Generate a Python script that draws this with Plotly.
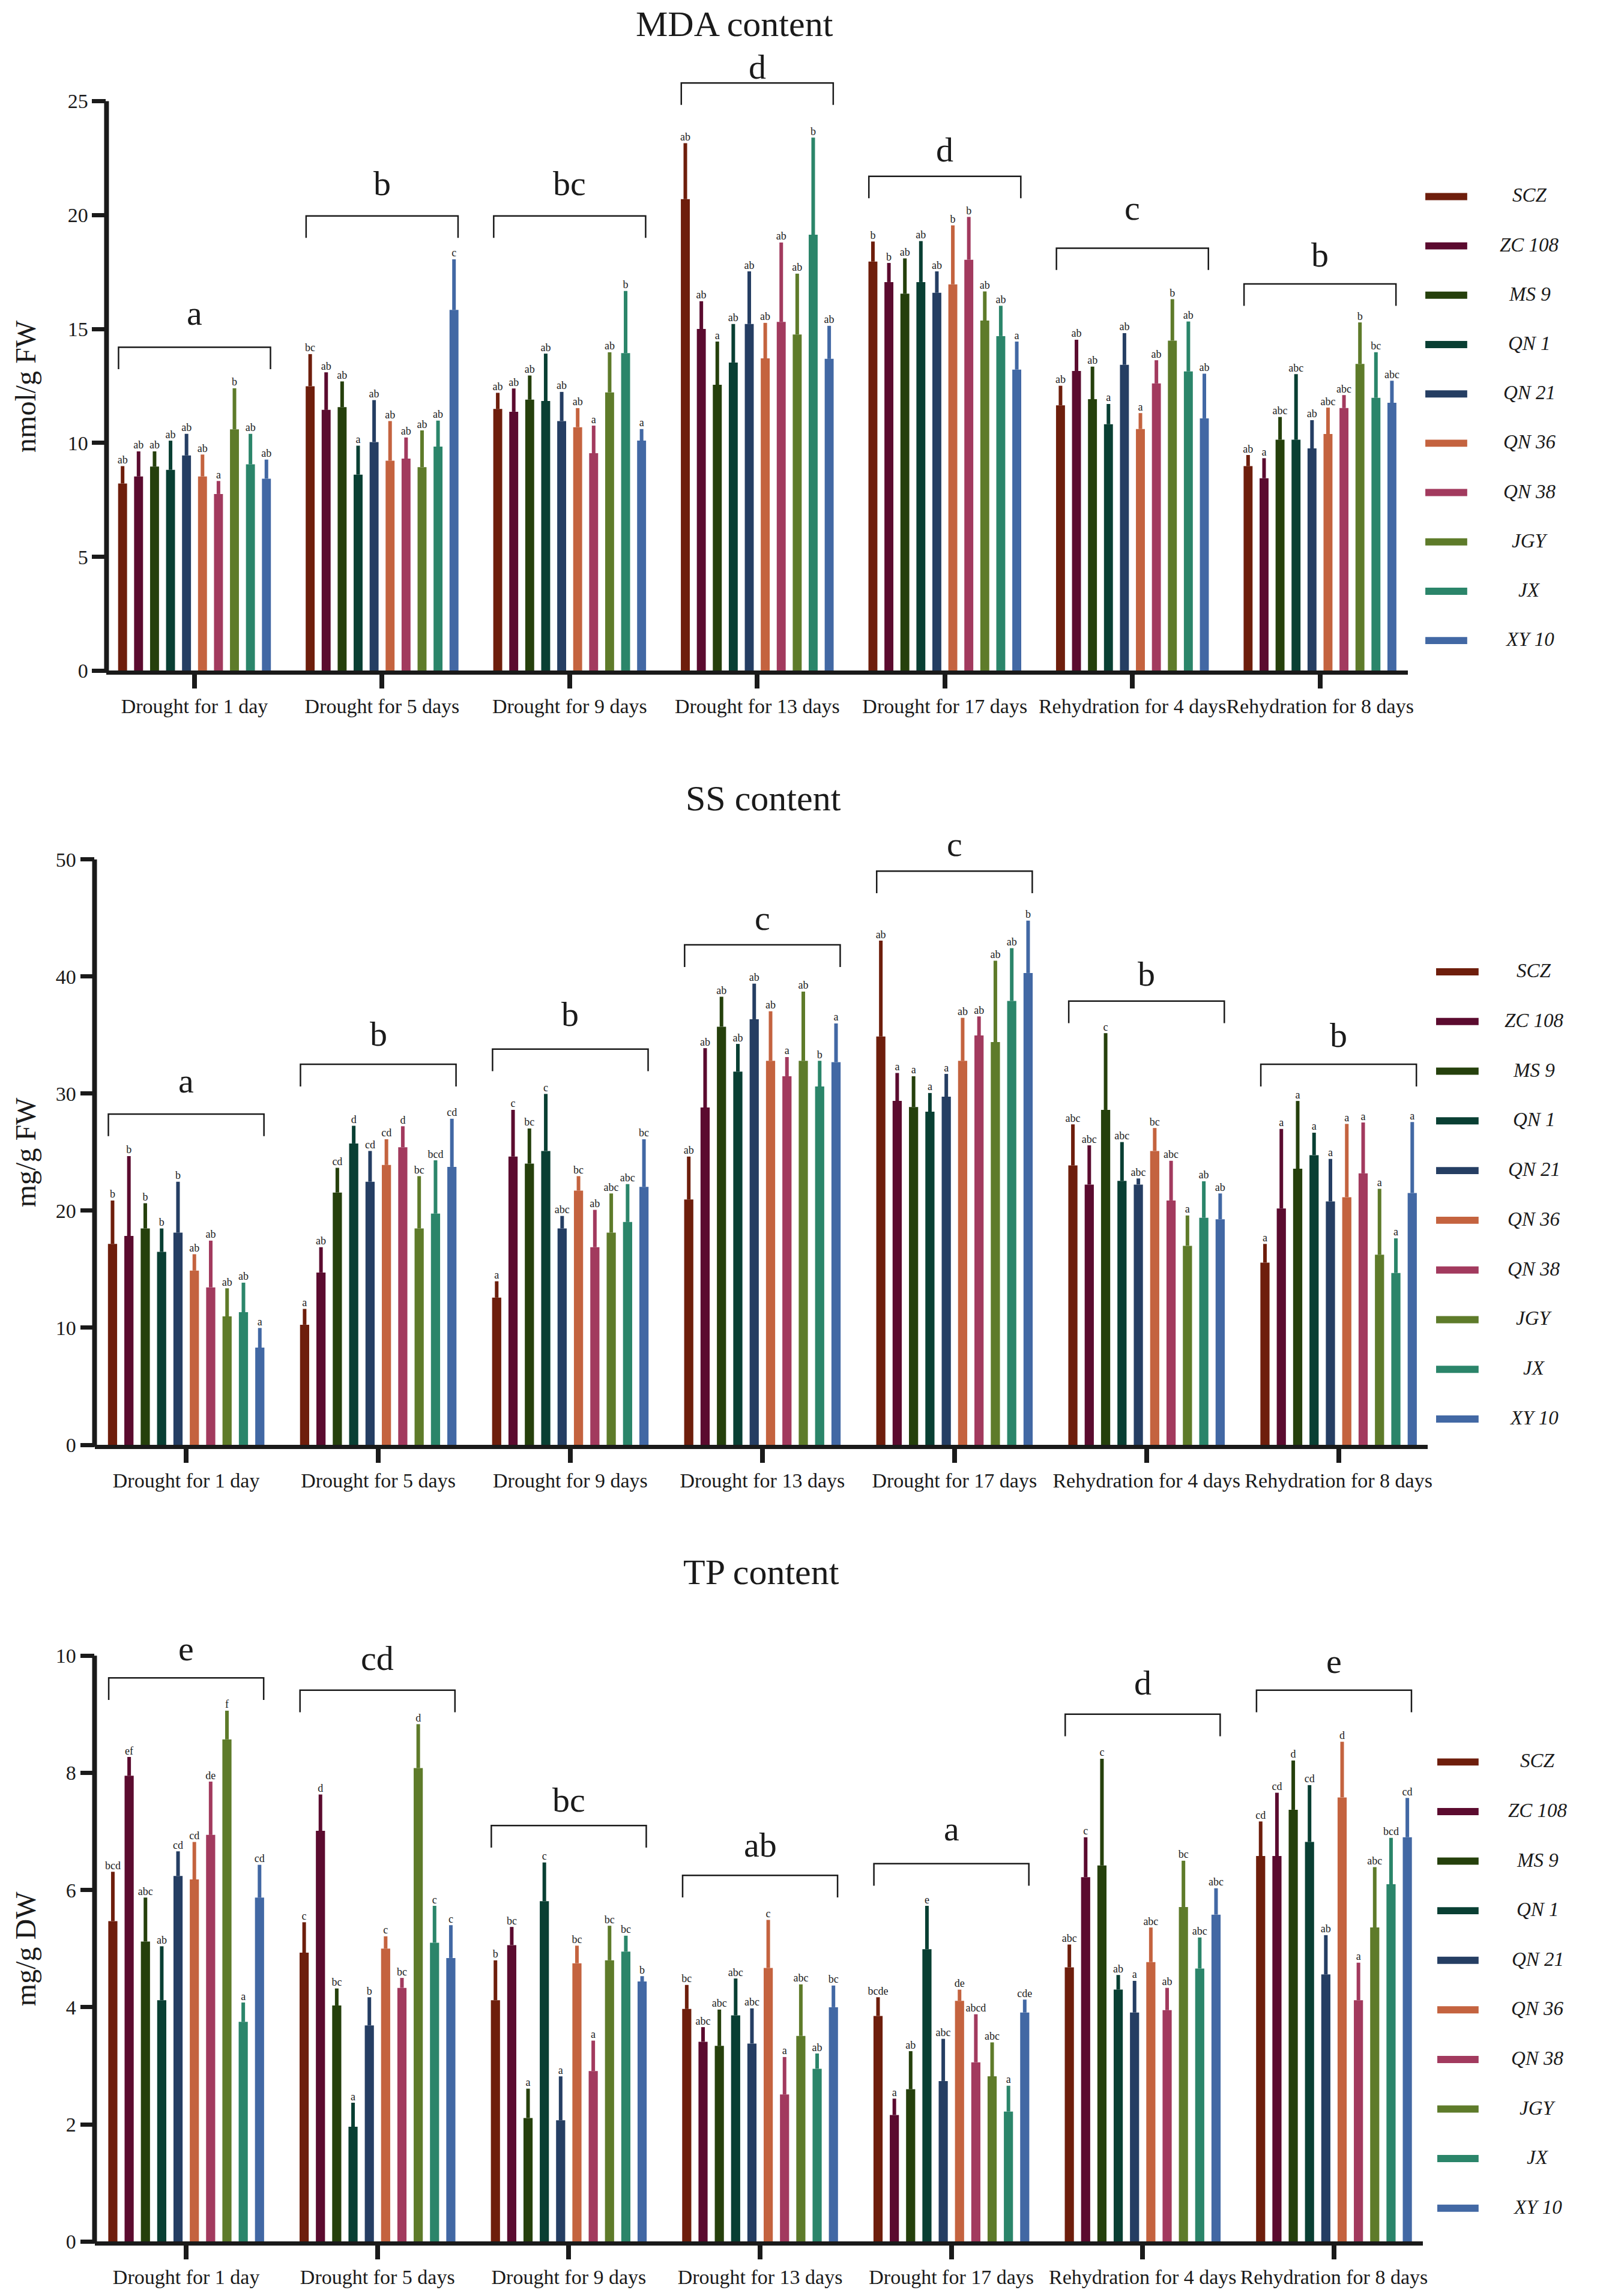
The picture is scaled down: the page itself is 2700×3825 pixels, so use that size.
import plotly.graph_objects as go

stages = ["Drought for 1 day", "Drought for 5 days", "Drought for 9 days",
          "Drought for 13 days", "Drought for 17 days",
          "Rehydration for 4 days", "Rehydration for 8 days"]
varieties = ["SCZ", "ZC 108", "MS 9", "QN 1", "QN 21", "QN 36", "QN 38", "JGY", "JX", "XY 10"]
colors = ["#6E1E0C", "#5B0B2F", "#25400C", "#093F33", "#253E63",
          "#C4633F", "#A23A5E", "#5E7B2A", "#2B856A", "#4268A4"]

# MDA content (rows = stages, columns = varieties)
mda_mean = [
    [8.22, 8.53, 8.96, 8.82, 9.45, 8.53, 7.76, 10.6, 9.06, 8.43],
    [12.49, 11.45, 11.57, 8.61, 10.04, 9.22, 9.31, 8.94, 9.84, 15.84],
    [11.49, 11.37, 11.9, 11.84, 10.96, 10.69, 9.55, 12.22, 13.94, 10.1],
    [20.7, 15.0, 12.55, 13.53, 15.22, 13.71, 15.31, 14.76, 19.14, 13.69],
    [17.96, 17.06, 16.55, 17.06, 16.59, 16.96, 18.04, 15.37, 14.69, 13.22],
    [11.65, 13.16, 11.92, 10.82, 13.43, 10.61, 12.61, 14.49, 13.14, 11.08],
    [8.98, 8.45, 10.14, 10.14, 9.76, 10.39, 11.53, 13.47, 11.98, 11.76],
]
mda_sd = [
    [0.76, 1.10, 0.67, 1.28, 0.95, 0.96, 0.57, 1.8, 1.34, 0.84],
    [1.41, 1.65, 1.13, 1.27, 1.84, 1.74, 0.93, 1.61, 1.14, 2.22],
    [0.71, 1.02, 1.06, 2.08, 1.28, 0.84, 1.21, 1.76, 2.73, 0.51],
    [2.46, 1.22, 1.9, 1.69, 2.31, 1.56, 3.49, 2.67, 4.26, 1.45],
    [0.88, 0.84, 1.55, 1.8, 0.94, 2.59, 1.88, 1.28, 1.33, 1.23],
    [0.86, 1.37, 1.43, 0.89, 1.39, 0.70, 1.02, 1.82, 2.19, 1.96],
    [0.49, 0.88, 1.0, 2.88, 1.24, 1.16, 0.57, 1.82, 2.0, 0.97],
]
mda_sig = [
    ["ab", "ab", "ab", "ab", "ab", "ab", "a", "b", "ab", "ab"],
    ["bc", "ab", "ab", "a", "ab", "ab", "ab", "ab", "ab", "c"],
    ["ab", "ab", "ab", "ab", "ab", "ab", "a", "ab", "b", "a"],
    ["ab", "ab", "a", "ab", "ab", "ab", "ab", "ab", "b", "ab"],
    ["b", "b", "ab", "ab", "ab", "b", "b", "ab", "ab", "a"],
    ["ab", "ab", "ab", "a", "ab", "a", "ab", "b", "ab", "ab"],
    ["ab", "a", "abc", "abc", "ab", "abc", "abc", "b", "bc", "abc"],
]
mda_group = ["a", "b", "bc", "d", "d", "c", "b"]
mda_bracket = [14.2, 19.96, 19.96, 25.8, 21.7, 18.55, 16.98]
mda_group_y = [15.7, 21.4, 21.4, 26.5, 22.86, 20.3, 18.27]

# SS content
ss_mean = [
    [17.16, 17.84, 18.48, 16.48, 18.12, 14.88, 13.45, 10.97, 11.33, 8.3],
    [10.26, 14.72, 21.55, 25.74, 22.47, 23.9, 25.42, 18.48, 19.75, 23.74],
    [12.57, 24.62, 24.02, 25.1, 18.48, 21.71, 16.88, 18.12, 19.03, 22.03],
    [20.95, 28.81, 35.71, 31.88, 36.35, 32.8, 31.48, 32.8, 30.6, 32.68],
    [34.88, 29.37, 28.85, 28.45, 29.73, 32.8, 34.96, 34.4, 37.91, 40.3],
    [23.86, 22.23, 28.61, 22.55, 22.23, 25.1, 20.87, 17.0, 19.39, 19.27],
    [15.56, 20.19, 23.58, 24.74, 20.79, 21.15, 23.18, 16.24, 14.68, 21.51],
]
ss_sd = [
    [3.71, 6.82, 2.15, 2.0, 4.35, 1.4, 3.99, 2.4, 2.52, 1.68],
    [1.35, 2.16, 2.11, 1.51, 2.63, 2.2, 1.79, 4.47, 4.55, 4.11],
    [1.4, 3.99, 3.0, 4.87, 1.07, 1.24, 3.19, 3.35, 3.24, 4.07],
    [3.67, 5.07, 2.56, 2.36, 3.04, 4.23, 1.64, 5.91, 2.2, 3.31],
    [8.18, 2.39, 2.63, 1.6, 1.95, 3.67, 1.63, 6.94, 4.51, 4.47],
    [3.51, 3.35, 6.55, 3.31, 0.52, 1.96, 3.39, 2.59, 3.12, 2.2],
    [1.6, 6.79, 5.79, 1.92, 3.63, 6.26, 4.35, 5.63, 2.96, 6.06],
]
ss_sig = [
    ["b", "b", "b", "b", "b", "ab", "ab", "ab", "ab", "a"],
    ["a", "ab", "cd", "d", "cd", "cd", "d", "bc", "bcd", "cd"],
    ["a", "c", "bc", "c", "abc", "bc", "ab", "abc", "abc", "bc"],
    ["ab", "ab", "ab", "ab", "ab", "ab", "a", "ab", "b", "a"],
    ["ab", "a", "a", "a", "a", "ab", "ab", "ab", "ab", "b"],
    ["abc", "abc", "c", "abc", "abc", "bc", "abc", "a", "ab", "ab"],
    ["a", "a", "a", "a", "a", "a", "a", "a", "a", "a"],
]
ss_group = ["a", "b", "b", "c", "c", "b", "b"]
ss_bracket = [28.25, 32.5, 33.8, 42.7, 49.0, 37.9, 32.5]
ss_group_y = [31.1, 35.1, 36.8, 45.0, 51.3, 40.2, 35.0]

# TP content
tp_mean = [
    [5.47, 7.95, 5.12, 4.12, 6.24, 6.18, 6.94, 8.57, 3.75, 5.87],
    [4.93, 7.01, 4.03, 1.96, 3.69, 5.0, 4.33, 8.08, 5.1, 4.84],
    [4.12, 5.06, 2.11, 5.81, 2.07, 4.75, 2.91, 4.8, 4.95, 4.44],
    [3.97, 3.41, 3.34, 3.86, 3.38, 4.67, 2.51, 3.51, 2.95, 4.0],
    [3.85, 2.16, 2.6, 4.99, 2.74, 4.11, 3.06, 2.82, 2.22, 3.91],
    [4.68, 6.22, 6.42, 4.3, 3.91, 4.77, 3.95, 5.71, 4.66, 5.58],
    [6.58, 6.58, 7.37, 6.82, 4.56, 7.58, 4.12, 5.36, 6.1, 6.9],
]
tp_sd = [
    [0.84, 0.32, 0.75, 0.92, 0.42, 0.64, 0.91, 0.49, 0.33, 0.56],
    [0.52, 0.62, 0.29, 0.41, 0.48, 0.21, 0.17, 0.75, 0.63, 0.56],
    [0.68, 0.31, 0.5, 0.66, 0.75, 0.3, 0.52, 0.59, 0.27, 0.09],
    [0.41, 0.25, 0.62, 0.63, 0.6, 0.82, 0.64, 0.88, 0.26, 0.37],
    [0.32, 0.28, 0.65, 0.74, 0.72, 0.19, 0.82, 0.58, 0.44, 0.22],
    [0.39, 0.68, 1.82, 0.25, 0.54, 0.59, 0.38, 0.79, 0.53, 0.45],
    [0.59, 1.08, 0.84, 0.97, 0.67, 0.95, 0.64, 1.03, 0.79, 0.67],
]
tp_sig = [
    ["bcd", "ef", "abc", "ab", "cd", "cd", "de", "f", "a", "cd"],
    ["c", "d", "bc", "a", "b", "c", "bc", "d", "c", "c"],
    ["b", "bc", "a", "c", "a", "bc", "a", "bc", "bc", "b"],
    ["bc", "abc", "abc", "abc", "abc", "c", "a", "abc", "ab", "bc"],
    ["bcde", "a", "ab", "e", "abc", "de", "abcd", "abc", "a", "cde"],
    ["abc", "c", "c", "ab", "a", "abc", "ab", "bc", "abc", "abc"],
    ["cd", "cd", "d", "cd", "ab", "d", "a", "abc", "bcd", "cd"],
]
tp_group = ["e", "cd", "bc", "ab", "a", "d", "e"]
tp_bracket = [9.62, 9.41, 7.1, 6.25, 6.45, 9.0, 9.41]
tp_group_y = [10.12, 9.96, 7.54, 6.77, 7.05, 9.54, 9.9]

FONT = "Liberation Serif, Times New Roman, serif"
INK = "#1a1a1a"
W, H = 2700, 3825
BARGAP = 0.148
NV = len(varieties)

panels = [
    dict(title="MDA content", ytitle="nmol/g FW", mean=mda_mean, sd=mda_sd, sig=mda_sig,
         group=mda_group, bracket=mda_bracket, group_y=mda_group_y,
         ymax=25, dtick=5, yrange=27.5, leg=0.96,
         xdom=[170, 2345], ybot=1115, ytop=66, xrange=[-0.469, 6.469],
         title_xy=(1220, 32), legx=(2374, 2444, 2548), legy=(321, 82.6)),
    dict(title="SS content", ytitle="mg/g FW", mean=ss_mean, sd=ss_sd, sig=ss_sig,
         group=ss_group, bracket=ss_bracket, group_y=ss_group_y,
         ymax=50, dtick=10, yrange=53, leg=1.89,
         xdom=[150, 2378], ybot=2411, ytop=1372, xrange=[-0.477, 6.464],
         title_xy=(1268, 1329), legx=(2392, 2463, 2556), legy=(1619, 83.2)),
    dict(title="TP content", ytitle="mg/g DW", mean=tp_mean, sd=tp_sd, sig=tp_sig,
         group=tp_group, bracket=tp_bracket, group_y=tp_group_y,
         ymax=10, dtick=2, yrange=10.6, leg=0.377,
         xdom=[150, 2370], ybot=3745, ytop=2705, xrange=[-0.479, 6.465],
         title_xy=(1264, 2624), legx=(2394, 2463, 2562), legy=(2942, 83.0)),
]

fig = go.Figure()
shapes = []
annotations = []
xs = list(range(len(stages)))
slot = (1 - BARGAP) / NV

for p_i, p in enumerate(panels):
    sfx = "" if p_i == 0 else str(p_i + 1)
    xa, ya = "x" + sfx, "y" + sfx
    for j, name in enumerate(varieties):
        means = [row[j] for row in p["mean"]]
        sds = [row[j] for row in p["sd"]]
        fig.add_trace(go.Bar(
            x=xs, y=means, name=name, xaxis=xa, yaxis=ya,
            marker=dict(color=colors[j], line=dict(width=0)),
            error_y=dict(type="data", array=sds, arrayminus=[0] * len(sds),
                         symmetric=False, color=colors[j], thickness=6, width=0),
            showlegend=False,
        ))
        # significance letters sit on top of each error bar
        offset = -(1 - BARGAP) / 2 + (j + 0.5) * slot
        fig.add_trace(go.Scatter(
            x=[x + offset for x in xs], y=[m + s for m, s in zip(means, sds)],
            text=[row[j] for row in p["sig"]], mode="text",
            textposition="top center", cliponaxis=False,
            textfont=dict(family=FONT, size=18, color=INK),
            xaxis=xa, yaxis=ya, showlegend=False, hoverinfo="skip",
        ))

    xdom = [p["xdom"][0] / W, p["xdom"][1] / W]
    ydom = [1 - p["ybot"] / H, 1 - p["ytop"] / H]
    fig.update_layout({
        "xaxis" + sfx: dict(domain=xdom, anchor=ya, range=p["xrange"],
                            tickvals=xs, ticktext=stages, tickangle=0, ticks="outside",
                            ticklen=23, tickwidth=8, tickcolor=INK,
                            showline=True, linewidth=7, linecolor=INK,
                            showgrid=False, zeroline=False,
                            tickfont=dict(family=FONT, size=34, color=INK)),
        "yaxis" + sfx: dict(domain=ydom, anchor=xa, range=[0, p["yrange"]],
                            tickvals=list(range(0, p["ymax"] + 1, p["dtick"])),
                            ticks="outside", ticklen=23, tickwidth=7, tickcolor=INK,
                            showline=False, showgrid=False, zeroline=False,
                            tickfont=dict(family=FONT, size=34, color=INK)),
    })

    # y axis line only up to the last tick
    y_top_paper = ydom[0] + (ydom[1] - ydom[0]) * p["ymax"] / p["yrange"]
    shapes.append(dict(type="line", xref="paper", yref="paper",
                       x0=xdom[0], x1=xdom[0], y0=ydom[0] - 0.0009, y1=y_top_paper,
                       line=dict(color=INK, width=8)))

    # brackets with group letters
    for k, x in enumerate(xs):
        yb = p["bracket"][k]
        x0, x1 = x - 0.405, x + 0.405
        shapes.append(dict(type="path", xref=xa, yref=ya,
                           path=f"M{x0},{yb - p['leg']} L{x0},{yb} L{x1},{yb} L{x1},{yb - p['leg']}",
                           line=dict(color=INK, width=2.5)))
        annotations.append(dict(x=x, y=p["group_y"][k], xref=xa, yref=ya,
                                xanchor="center", yanchor="middle",
                                text=p["group"][k], showarrow=False,
                                font=dict(family=FONT, size=58, color=INK)))

    annotations.append(dict(x=p["title_xy"][0] / W, y=1 - p["title_xy"][1] / H,
                            xref="paper", yref="paper", xanchor="center", yanchor="middle",
                            text=p["title"], showarrow=False,
                            font=dict(family=FONT, size=60, color=INK)))
    annotations.append(dict(x=34 / W, y=p["ymax"] / 2, xref="paper", yref=ya,
                            xanchor="center", yanchor="middle",
                            text=p["ytitle"], textangle=-90, showarrow=False,
                            font=dict(family=FONT, size=48, color=INK)))

    # legend drawn beside each panel
    lx0, lx1, ltx = p["legx"]
    ly0, lstep = p["legy"]
    for j, name in enumerate(varieties):
        yc = ly0 + j * lstep
        shapes.append(dict(type="rect", xref="paper", yref="paper",
                           x0=lx0 / W, x1=lx1 / W, y0=1 - (yc + 6) / H, y1=1 - (yc - 6) / H,
                           fillcolor=colors[j], line=dict(width=0)))
        annotations.append(dict(x=ltx / W, y=1 - (yc - 2) / H, xref="paper", yref="paper",
                                xanchor="center", yanchor="middle",
                                text=f"<i>{name}</i>", showarrow=False,
                                font=dict(family=FONT, size=33, color=INK)))

fig.update_layout(
    width=W, height=H, margin=dict(l=0, r=0, t=0, b=0),
    paper_bgcolor="white", plot_bgcolor="white",
    barmode="group", bargap=BARGAP, bargroupgap=0.44,
    showlegend=False, shapes=shapes, annotations=annotations,
)

fig.write_html("out.html")
